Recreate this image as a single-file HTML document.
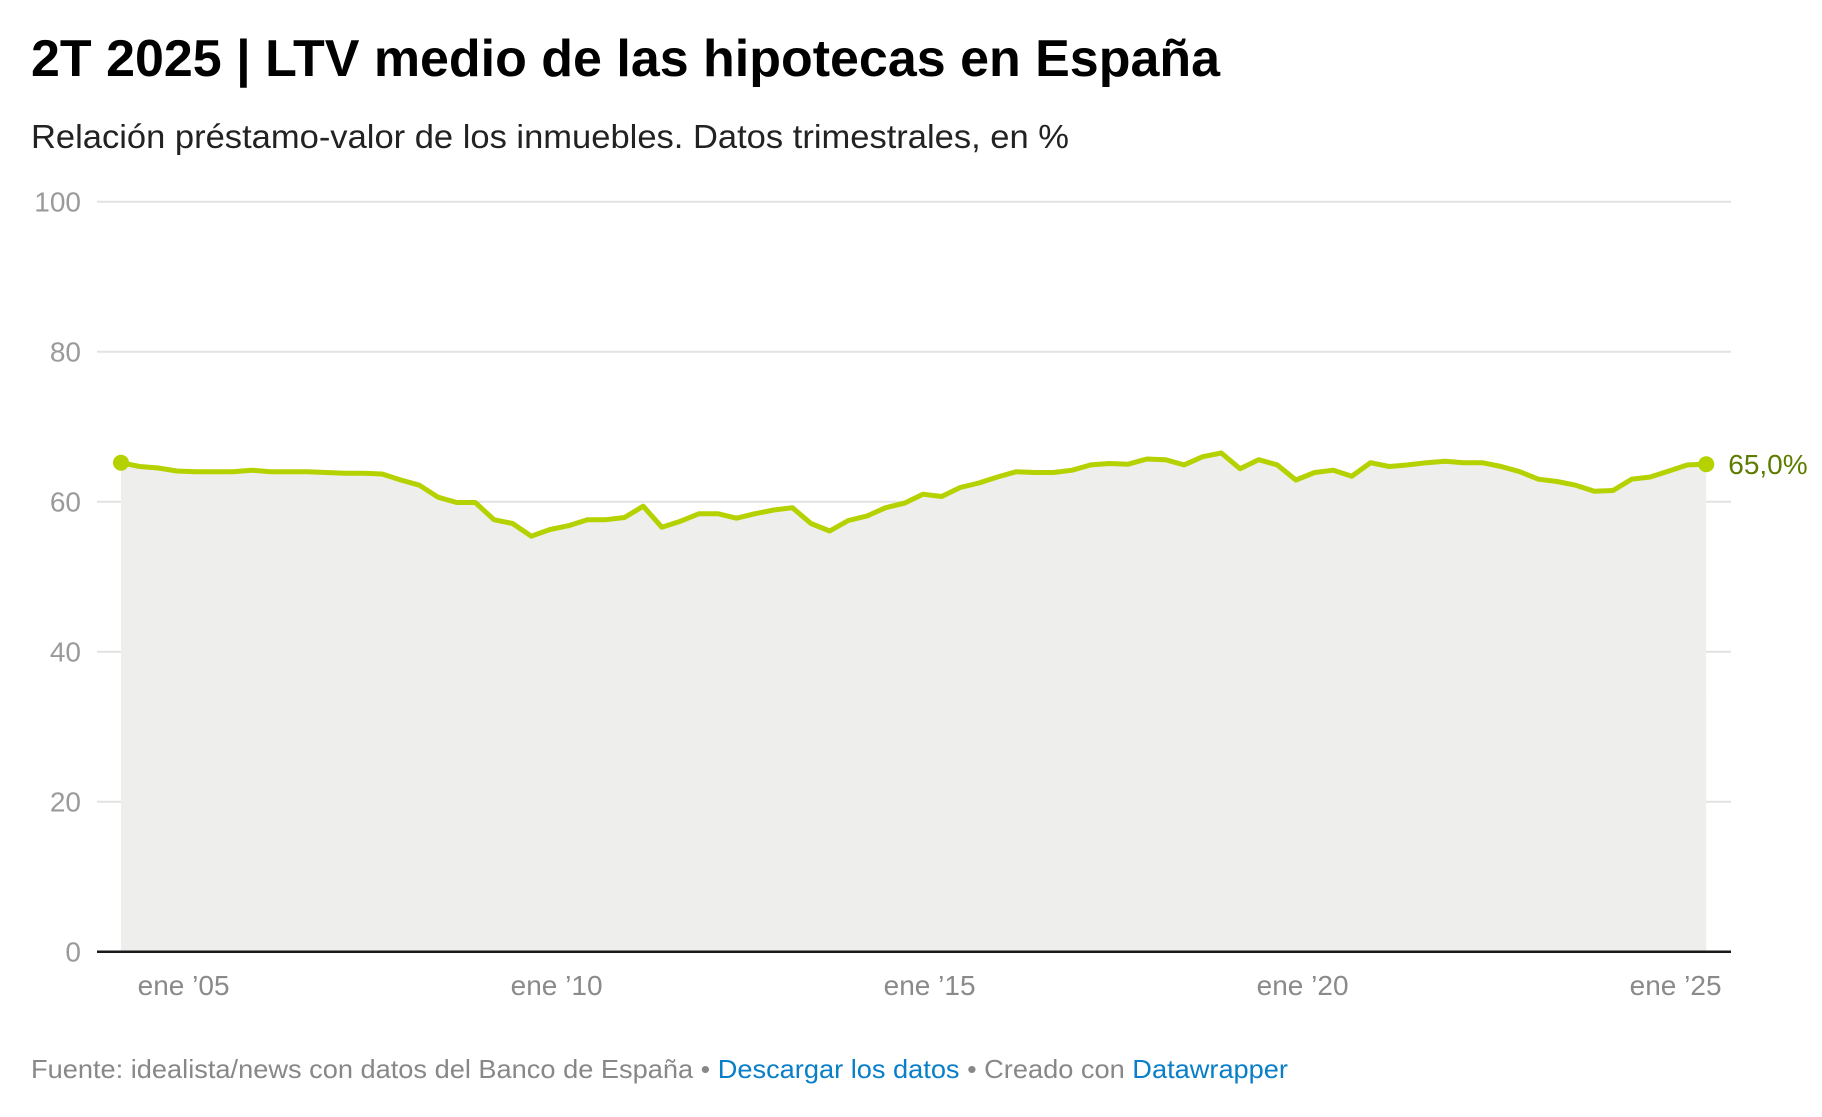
<!DOCTYPE html>
<html><head><meta charset="utf-8"><style>
html,body{margin:0;padding:0;background:#fff;}
svg{display:block;font-family:"Liberation Sans",sans-serif;}
</style></head><body>
<svg id="chart" width="1822" height="1117" viewBox="0 0 1822 1117">
<text x="31" y="76" font-size="52" font-weight="bold" fill="#000" textLength="1189" lengthAdjust="spacingAndGlyphs">2T 2025 | LTV medio de las hipotecas en España</text>
<text x="31" y="148" font-size="33" fill="#222" textLength="1038" lengthAdjust="spacingAndGlyphs">Relación préstamo-valor de los inmuebles. Datos trimestrales, en %</text>
<g id="grid"></g>
<path id="area" fill="#eeeeec"></path>
<g id="ylabels"></g>
<line x1="97" x2="1731" y1="951.7" y2="951.7" stroke="#1a1a1a" stroke-width="2.5"></line>
<g id="xlabels"></g>
<path id="line" fill="none" stroke="#b5d100" stroke-width="5" stroke-linejoin="round"></path>
<circle id="dot0" r="8" fill="#b5d100"></circle>
<circle id="dot1" r="8" fill="#b5d100"></circle>
<text id="lastlabel" font-size="28" fill="#5e7d00"></text>
<text x="31" y="1078" font-size="26" fill="#888" textLength="1257" lengthAdjust="spacingAndGlyphs">Fuente: idealista/news con datos del Banco de España • <tspan fill="#0a7fc9">Descargar los datos</tspan> • Creado con <tspan fill="#0a7fc9">Datawrapper</tspan></text>
</svg>
<script>
const startYear = 2004;
const values = [65.2,64.7,64.5,64.1,64.0,64.0,64.0,64.2,64.0,64.0,64.0,63.9,63.8,63.8,63.7,62.9,62.2,60.6,59.9,59.9,57.6,57.1,55.4,56.3,56.8,57.6,57.6,57.9,59.4,56.6,57.4,58.4,58.4,57.8,58.4,58.9,59.2,57.1,56.1,57.5,58.1,59.2,59.8,61.0,60.7,61.9,62.5,63.3,64.0,63.9,63.9,64.2,64.9,65.1,65.0,65.7,65.6,64.9,66.0,66.5,64.4,65.6,64.9,62.9,63.9,64.2,63.4,65.2,64.7,64.9,65.2,65.4,65.2,65.2,64.7,64.0,63.0,62.7,62.2,61.4,61.5,63.0,63.3,64.1,64.9,65.0];
const yTicks = [0,20,40,60,80,100];
const xTickYears = [2005,2010,2015,2020,2025];
const xTickLabels = ["ene \u201905","ene \u201910","ene \u201915","ene \u201920","ene \u201925"];
const lastLabel = "65,0%";

const NS="http://www.w3.org/2000/svg";
const x0=121, dx=18.65, yBase=951.7, pxPerUnit=7.5;
function xq(i){return x0+dx*i;}
function xYear(y){return xq((y-startYear)*4);}
function yv(v){return yBase-v*pxPerUnit;}

const grid=document.getElementById('grid'), yl=document.getElementById('ylabels'), xl=document.getElementById('xlabels');
yTicks.forEach(t=>{
  if(t>0){
    const l=document.createElementNS(NS,'line');
    l.setAttribute('x1',97);l.setAttribute('x2',1731);
    l.setAttribute('y1',yv(t));l.setAttribute('y2',yv(t));
    l.setAttribute('stroke','#e2e2e2');l.setAttribute('stroke-width',2);
    
    
    grid.appendChild(l);
  }
  const tx=document.createElementNS(NS,'text');
  tx.setAttribute('x',81);tx.setAttribute('y',yv(t)+10);
  tx.setAttribute('text-anchor','end');tx.setAttribute('font-size',28);tx.setAttribute('fill','#9a9a9a');
  tx.textContent=t;
  
  
  yl.appendChild(tx);
});
xTickYears.forEach((y,k)=>{
  const tx=document.createElementNS(NS,'text');
  tx.setAttribute('x',xYear(y)-12);tx.setAttribute('y',995);
  tx.setAttribute('text-anchor','middle');tx.setAttribute('font-size',28);tx.setAttribute('fill','#8a8a8a');
  tx.textContent=xTickLabels[k];
  
  
  xl.appendChild(tx);
});
let d='';
values.forEach((v,i)=>{d+=(i?'L':'M')+xq(i).toFixed(1)+','+yv(v).toFixed(1);});
document.getElementById('line').setAttribute('d',d);
const n=values.length-1;
document.getElementById('area').setAttribute('d',d+'L'+xq(n)+','+yBase+'L'+xq(0)+','+yBase+'Z');
const d0=document.getElementById('dot0'); d0.setAttribute('cx',xq(0)); d0.setAttribute('cy',yv(values[0]));
const d1=document.getElementById('dot1'); d1.setAttribute('cx',xq(n)); d1.setAttribute('cy',yv(values[n]));
const ll=document.getElementById('lastlabel'); ll.setAttribute('x',xq(n)+22); ll.setAttribute('y',yv(values[n])+10); ll.textContent=lastLabel;
</script>
</body></html>
